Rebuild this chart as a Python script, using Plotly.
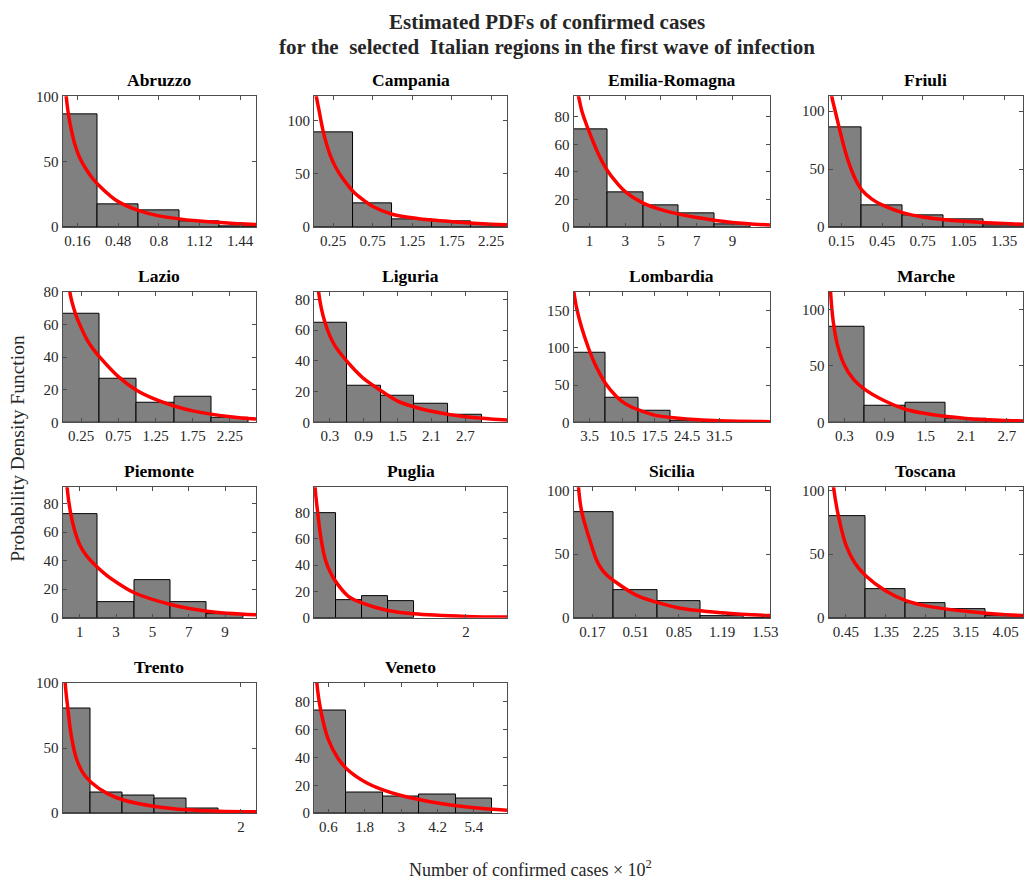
import plotly.graph_objects as go

# ---------------- data ----------------
abruzzo_centers = [0.16, 0.48, 0.8, 1.12, 1.44]
abruzzo_heights = [86, 17.6, 12.6, 4.5, 0.5]
abruzzo_binw = 0.32
abruzzo_curve_x = [0.06, 0.072, 0.09, 0.113, 0.144, 0.183, 0.23, 0.277, 0.332, 0.41, 0.488, 0.644, 0.8, 1.12, 1.44, 1.565]
abruzzo_curve_y = [115, 100, 86, 74, 62, 52, 44, 37.5, 31.5, 24.5, 19, 12.5, 8.5, 4.5, 2.5, 1.8]
abruzzo_ticks = ["0.16", "0.48", "0.8", "1.12", "1.44"]

campania_centers = [0.25, 0.75, 1.25, 1.75, 2.25]
campania_heights = [89, 22.6, 7, 5, 2]
campania_binw = 0.5
campania_curve_x = [0.016, 0.039, 0.0725, 0.1225, 0.1725, 0.2225, 0.285, 0.36, 0.435, 0.51, 0.6225, 0.7475, 0.9975, 1.2475, 1.4975, 1.7475, 2.2475, 2.4475]
campania_curve_y = [135, 123, 110, 91, 77, 66, 56, 47, 39.5, 33, 26, 19.5, 12, 8.7, 6.5, 5, 2.6, 2]
campania_ticks = ["0.25", "0.75", "1.25", "1.75", "2.25"]

emilia_centers = [1, 3, 5, 7, 9]
emilia_heights = [71, 25, 16, 9.8, 2.2]
emilia_binw = 2
emilia_curve_x = [0.25, 0.39, 0.6, 0.93, 1.5, 2.0, 2.5, 3, 4, 5, 6, 7, 9, 11.1]
emilia_curve_y = [102, 94.8, 83, 71, 53, 41, 32.5, 25.7, 17.3, 12.6, 9.3, 6.8, 3.2, 1.4]
emilia_ticks = ["1", "3", "5", "7", "9"]

friuli_centers = [0.15, 0.45, 0.75, 1.05, 1.35]
friuli_heights = [85.8, 18.4, 9.9, 6.8, 1]
friuli_binw = 0.3
friuli_curve_x = [0.068, 0.079, 0.1, 0.133, 0.165, 0.2, 0.25, 0.3, 0.375, 0.45, 0.6, 0.75, 0.9, 1.05, 1.35, 1.49]
friuli_curve_y = [125, 112.7, 102, 86, 71, 57, 42, 32, 24, 19, 12.4, 8.6, 6.4, 4.9, 2.9, 2.3]
friuli_ticks = ["0.15", "0.45", "0.75", "1.05", "1.35"]

lazio_centers = [0.25, 0.75, 1.25, 1.75, 2.25]
lazio_heights = [66.7, 26.7, 11.7, 15.7, 3]
lazio_binw = 0.5
lazio_curve_x = [0.085, 0.098, 0.173, 0.25, 0.33, 0.41, 0.49, 0.75, 1.0, 1.25, 1.5, 1.75, 2.25, 2.6]
lazio_curve_y = [90, 80, 66.7, 58, 50.5, 45, 40.5, 28, 19.5, 14, 10, 7, 3.4, 2]
lazio_ticks = ["0.25", "0.75", "1.25", "1.75", "2.25"]

liguria_centers = [0.3, 0.9, 1.5, 2.1, 2.7]
liguria_heights = [64.6, 23.5, 17.5, 12.4, 4.7]
liguria_binw = 0.6
liguria_curve_x = [0.08, 0.1, 0.15, 0.217, 0.3, 0.4, 0.5, 0.6, 0.75, 0.9, 1.07, 1.28, 1.5, 1.8, 2.1, 2.7, 3.44]
liguria_curve_y = [93, 85, 74, 64.6, 56.3, 49.3, 44.3, 39.8, 33.8, 28.5, 24, 18.8, 13.8, 10, 7.2, 3.6, 1.5]
liguria_ticks = ["0.3", "0.9", "1.5", "2.1", "2.7"]

lombardia_centers = [3.5, 10.5, 17.5, 24.5, 31.5]
lombardia_heights = [93.4, 33.5, 15.4, 2, 1]
lombardia_binw = 7
lombardia_curve_x = [0.07, 0.64, 1.7, 3.14, 4.57, 7.07, 9.2, 10.6, 12.5, 14.6, 17.5, 21, 24.4, 31.5, 42.4]
lombardia_curve_y = [175, 154, 128, 101, 79, 50.7, 35, 27.5, 20.5, 15.4, 9.7, 6.5, 4.4, 2, 0.9]
lombardia_ticks = ["3.5", "10.5", "17.5", "24.5", "31.5"]

marche_centers = [0.3, 0.9, 1.5, 2.1, 2.7]
marche_heights = [84.9, 14.5, 17.7, 3.5, 1.5]
marche_binw = 0.6
marche_curve_x = [0.08, 0.096, 0.134, 0.192, 0.29, 0.436, 0.59, 0.9, 1.2, 1.5, 2.1, 2.7, 2.94]
marche_curve_y = [140, 115.7, 90, 70, 52, 38, 29.7, 18.9, 11.6, 7.8, 3.5, 1.7, 1.2]
marche_ticks = ["0.3", "0.9", "1.5", "2.1", "2.7"]

piemonte_centers = [1, 3, 5, 7, 9]
piemonte_heights = [72.4, 10.6, 26.5, 10.6, 2.8]
piemonte_binw = 2
piemonte_curve_x = [0.2, 0.3, 0.51, 0.7, 1, 1.4, 2, 2.5, 3, 4, 6, 8, 10.7]
piemonte_curve_y = [115, 91.5, 72.4, 62, 51, 43, 35, 29.5, 25, 17.5, 9.3, 4.6, 2]
piemonte_ticks = ["1", "3", "5", "7", "9"]

puglia_centers = [0.167, 0.5, 0.833, 1.167]
puglia_heights = [80, 13.25, 16.5, 13]
puglia_binw = 0.333
puglia_curve_x = [0.06, 0.068, 0.102, 0.145, 0.196, 0.26, 0.333, 0.495, 0.666, 1.0, 1.33, 2.0, 2.53]
puglia_curve_y = [120, 99.5, 80, 60, 45, 35, 27.5, 16.3, 11.3, 5.5, 3, 1, 0.5]
puglia_tickvals = [2]
puglia_ticks = ["2"]

sicilia_centers = [0.17, 0.51, 0.85, 1.19, 1.53]
sicilia_heights = [83.2, 21.7, 13.4, 1.3, 0]
sicilia_binw = 0.34
sicilia_curve_x = [0.05, 0.061, 0.087, 0.166, 0.2, 0.244, 0.29, 0.34, 0.51, 0.68, 0.85, 1.19, 1.53, 1.567]
sicilia_curve_y = [130, 102.6, 83, 56, 46, 38, 33, 29, 18, 12, 7.7, 3.9, 1.8, 1.7]
sicilia_ticks = ["0.17", "0.51", "0.85", "1.19", "1.53"]

toscana_centers = [0.45, 1.35, 2.25, 3.15, 4.05]
toscana_heights = [80, 22.2, 11.1, 6.5, 1]
toscana_binw = 0.9
toscana_curve_x = [0.14, 0.17, 0.28, 0.45, 0.65, 0.9, 1.35, 1.8, 2.25, 3.15, 4.05, 4.44]
toscana_curve_y = [115, 102.6, 80, 57, 43, 32.8, 21, 13.4, 9.3, 5, 2.3, 1.8]
toscana_ticks = ["0.45", "1.35", "2.25", "3.15", "4.05"]

trento_centers = [0.1755, 0.5265, 0.8775, 1.2285, 1.5795, 1.9305]
trento_heights = [80.8, 15.9, 13.9, 10.9, 3.3, 1.3]
trento_binw = 0.351
trento_curve_x = [0.06, 0.07, 0.099, 0.135, 0.189, 0.26, 0.351, 0.53, 0.71, 1.06, 1.41, 1.755, 2.166]
trento_curve_y = [125, 100.5, 80.8, 60.6, 43, 31.6, 24, 15.2, 10.1, 5.1, 2.5, 1.5, 1]
trento_tickvals = [2]
trento_ticks = ["2"]

veneto_centers = [0.6, 1.8, 3, 4.2, 5.4]
veneto_heights = [74, 14.6, 12, 13.2, 10.8]
veneto_binw = 1.2
veneto_curve_x = [0.18, 0.22, 0.35, 0.6, 0.9, 1.2, 1.8, 2.4, 3, 4.2, 5.4, 6.49]
veneto_curve_y = [108, 94, 74, 53, 40, 32, 22.6, 16.7, 12.7, 7.3, 3.8, 2.1]
veneto_ticks = ["0.6", "1.8", "3", "4.2", "5.4"]

# ---------------- panel configuration ----------------
panels = [
    dict(name="Abruzzo", c=abruzzo_centers, h=abruzzo_heights, w=abruzzo_binw,
         cx=abruzzo_curve_x, cy=abruzzo_curve_y, tv=abruzzo_centers, tt=abruzzo_ticks,
         xr=[0.043, 1.565], yr=[0, 100], yt=[0, 50, 100]),
    dict(name="Campania", c=campania_centers, h=campania_heights, w=campania_binw,
         cx=campania_curve_x, cy=campania_curve_y, tv=campania_centers, tt=campania_ticks,
         xr=[0.01, 2.45], yr=[0, 123], yt=[0, 50, 100]),
    dict(name="Emilia-Romagna", c=emilia_centers, h=emilia_heights, w=emilia_binw,
         cx=emilia_curve_x, cy=emilia_curve_y, tv=emilia_centers, tt=emilia_ticks,
         xr=[0.11, 11.1], yr=[0, 94.8], yt=[0, 20, 40, 60, 80]),
    dict(name="Friuli", c=friuli_centers, h=friuli_heights, w=friuli_binw,
         cx=friuli_curve_x, cy=friuli_curve_y, tv=friuli_centers, tt=friuli_ticks,
         xr=[0.055, 1.49], yr=[0, 112.7], yt=[0, 50, 100]),
    dict(name="Lazio", c=lazio_centers, h=lazio_heights, w=lazio_binw,
         cx=lazio_curve_x, cy=lazio_curve_y, tv=lazio_centers, tt=lazio_ticks,
         xr=[0.0, 2.6], yr=[0, 80], yt=[0, 20, 40, 60, 80]),
    dict(name="Liguria", c=liguria_centers, h=liguria_heights, w=liguria_binw,
         cx=liguria_curve_x, cy=liguria_curve_y, tv=liguria_centers, tt=liguria_ticks,
         xr=[0.02, 3.44], yr=[0, 85], yt=[0, 20, 40, 60, 80]),
    dict(name="Lombardia", c=lombardia_centers, h=lombardia_heights, w=lombardia_binw,
         cx=lombardia_curve_x, cy=lombardia_curve_y, tv=lombardia_centers, tt=lombardia_ticks,
         xr=[0.0, 42.4], yr=[0, 175], yt=[0, 50, 100, 150]),
    dict(name="Marche", c=marche_centers, h=marche_heights, w=marche_binw,
         cx=marche_curve_x, cy=marche_curve_y, tv=marche_centers, tt=marche_ticks,
         xr=[0.066, 2.94], yr=[0, 115.7], yt=[0, 50, 100]),
    dict(name="Piemonte", c=piemonte_centers, h=piemonte_heights, w=piemonte_binw,
         cx=piemonte_curve_x, cy=piemonte_curve_y, tv=piemonte_centers, tt=piemonte_ticks,
         xr=[0.05, 10.7], yr=[0, 91.5], yt=[0, 20, 40, 60, 80]),
    dict(name="Puglia", c=puglia_centers, h=puglia_heights, w=puglia_binw,
         cx=puglia_curve_x, cy=puglia_curve_y, tv=puglia_tickvals, tt=puglia_ticks,
         xr=[0.055, 2.526], yr=[0, 99.5], yt=[0, 20, 40, 60, 80]),
    dict(name="Sicilia", c=sicilia_centers, h=sicilia_heights, w=sicilia_binw,
         cx=sicilia_curve_x, cy=sicilia_curve_y, tv=sicilia_centers, tt=sicilia_ticks,
         xr=[0.022, 1.567], yr=[0, 102.6], yt=[0, 50, 100]),
    dict(name="Toscana", c=toscana_centers, h=toscana_heights, w=toscana_binw,
         cx=toscana_curve_x, cy=toscana_curve_y, tv=toscana_centers, tt=toscana_ticks,
         xr=[0.057, 4.44], yr=[0, 102.6], yt=[0, 50, 100]),
    dict(name="Trento", c=trento_centers, h=trento_heights, w=trento_binw,
         cx=trento_curve_x, cy=trento_curve_y, tv=trento_tickvals, tt=trento_ticks,
         xr=[0.041, 2.166], yr=[0, 100.5], yt=[0, 50, 100]),
    dict(name="Veneto", c=veneto_centers, h=veneto_heights, w=veneto_binw,
         cx=veneto_curve_x, cy=veneto_curve_y, tv=veneto_centers, tt=veneto_ticks,
         xr=[0.13, 6.49], yr=[0, 94], yt=[0, 20, 40, 60, 80]),
]

W, H = 1032, 881
col_left = [63, 316.5, 578, 835]
col_right = [258, 511, 776, 1031]
row_top = [90, 289, 488, 687]
row_bot = [223, 422, 621, 820]

FONT = "Liberation Serif, Times New Roman, serif"
AXC = "#4d4d4d"
TXT = "#262626"

fig = go.Figure()
layout = dict(
    width=W, height=H, margin=dict(l=0, r=0, t=0, b=0),
    paper_bgcolor="white", plot_bgcolor="white", showlegend=False,
    bargap=0, font=dict(family=FONT, size=15, color=TXT),
)
annotations = []

for i, p in enumerate(panels):
    r, c = divmod(i, 4)
    k = "" if i == 0 else str(i + 1)
    xa, ya = "x" + k, "y" + k
    fig.add_trace(go.Bar(
        x=p["c"], y=p["h"], width=p["w"], xaxis=xa, yaxis=ya,
        marker=dict(color="#808080", line=dict(color="#000000", width=1)),
        hoverinfo="skip"))
    fig.add_trace(go.Scatter(
        x=p["cx"], y=p["cy"], mode="lines", xaxis=xa, yaxis=ya,
        line=dict(color="#ff0000", width=3.5, shape="spline", smoothing=1.0),
        hoverinfo="skip"))
    x0, x1 = col_left[c] / W, col_right[c] / W
    y0, y1 = 1 - row_bot[r] / H, 1 - row_top[r] / H
    layout["xaxis" + k] = dict(
        domain=[x0, x1], anchor=ya, range=p["xr"], tickmode="array",
        tickvals=p["tv"], ticktext=p["tt"], ticks="inside", ticklen=4,
        tickcolor=AXC, showline=True, linecolor=AXC, linewidth=1, mirror="ticks",
        showgrid=False, zeroline=False, tickfont=dict(family=FONT, size=15, color=TXT))
    layout["yaxis" + k] = dict(
        domain=[y0, y1], anchor=xa, range=p["yr"], tickmode="array",
        tickvals=p["yt"], ticks="inside", ticklen=4,
        tickcolor=AXC, showline=True, linecolor=AXC, linewidth=1, mirror="ticks",
        showgrid=False, zeroline=False, tickfont=dict(family=FONT, size=15, color=TXT))
    annotations.append(dict(
        text="<b>" + p["name"] + "</b>", xref="paper", yref="paper",
        x=(x0 + x1) / 2, y=y1 + 4 / H, xanchor="center", yanchor="bottom",
        showarrow=False, font=dict(family=FONT, size=17.5, color="#000000")))

annotations += [
    dict(text="<b>Estimated PDFs of confirmed cases</b>", xref="paper", yref="paper",
         x=551 / W, y=1 - 14 / H, xanchor="center", yanchor="middle", showarrow=False,
         font=dict(family=FONT, size=21, color="#262626")),
    dict(text="<b>for the&nbsp; selected&nbsp; Italian regions in the first wave of infection</b>",
         xref="paper", yref="paper", x=551 / W, y=1 - 40 / H, xanchor="center",
         yanchor="middle", showarrow=False, font=dict(family=FONT, size=21, color="#262626")),
    dict(text="Number of confirmed cases × 10<sup>2</sup>", xref="paper", yref="paper",
         x=535 / W, y=1 - 876 / H, xanchor="center", yanchor="middle", showarrow=False,
         font=dict(family=FONT, size=18, color=TXT)),
    dict(text="Probability Density Function", xref="paper", yref="paper",
         x=18 / W, y=1 - 448 / H, xanchor="center", yanchor="middle", showarrow=False,
         textangle=-90, font=dict(family=FONT, size=19.5, color=TXT)),
]
layout["annotations"] = annotations
fig.update_layout(**layout)
fig.write_html("out.html")
